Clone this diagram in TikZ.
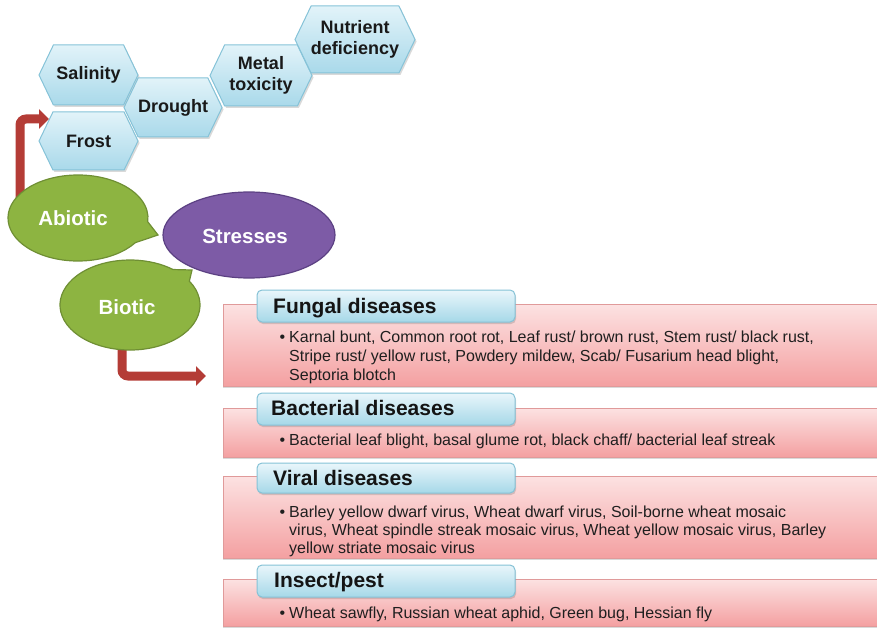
\documentclass[tikz,border=0pt]{standalone}
\usepackage{fontspec}
\setmainfont{Liberation Sans}
\usetikzlibrary{arrows.meta,shadows}

\definecolor{hexTop}{HTML}{E2F3F9}
\definecolor{hexBot}{HTML}{A9D9EA}
\definecolor{hexLine}{HTML}{86C3D8}
\definecolor{leaf}{HTML}{8DB441}
\definecolor{leafLine}{HTML}{6F8F34}
\definecolor{plum}{HTML}{7D5BA6}
\definecolor{plumLine}{HTML}{5C4183}
\definecolor{rustRed}{HTML}{B43C36}
\definecolor{pinkTop}{HTML}{FCE2E2}
\definecolor{pinkBot}{HTML}{F4A0A1}
\definecolor{pinkLine}{HTML}{E09A9A}
\definecolor{tabTop}{HTML}{E9F6FB}
\definecolor{tabBot}{HTML}{A6D8E8}
\definecolor{tabLine}{HTML}{85C2D6}

% hexagon with pointed left/right ends: name, cx, cy, half width, half height, label
\newcommand\hexagonnode[6]{%
  \path[hexshape] ({#2-#4},#3) -- ({#2-#4+0.48*#5},{#3-#5}) -- ({#2+#4-0.48*#5},{#3-#5})
    -- ({#2+#4},#3) -- ({#2+#4-0.48*#5},{#3+#5}) -- ({#2-#4+0.48*#5},{#3+#5}) -- cycle;
  \node[hexlabel] (#1) at (#2,#3) {#6};}

% speech bubble: cx, cy, rx, ry, gap start angle, gap end angle, tip, style
\newcommand\bubble[8]{%
  \path[#8] ({#1+#3*cos(#6)},{#2+#4*sin(#6)})
    arc[start angle=#6, end angle={#5+360}, x radius=#3, y radius=#4] -- #7 -- cycle;}

\begin{document}
\begin{tikzpicture}[x=1pt,y=-1pt,
  hexshape/.style={top color=hexTop, bottom color=hexBot, draw=hexLine, line width=1pt,
    drop shadow={shadow xshift=1.5pt, shadow yshift=-2pt, opacity=0.25, fill=black!60}},
  hexlabel/.style={font=\bfseries\fontsize{18}{21}\selectfont, text=black!90, align=center, inner sep=0pt},
  bubblelabel/.style={font=\bfseries\fontsize{20.5}{24}\selectfont, text=white, inner sep=0pt},
  greenbubble/.style={fill=leaf, draw=leafLine, line width=1.2pt},
  arrowline/.style={draw=rustRed, line width=9pt, rounded corners=6pt, -{Triangle[length=10pt,width=19pt]}},
  panel/.style={top color=pinkTop, bottom color=pinkBot, draw=pinkLine, line width=1pt,
    drop shadow={shadow xshift=0pt, shadow yshift=-2pt, opacity=0.25, fill=black!60}},
  tabbox/.style={top color=tabTop, bottom color=tabBot, draw=tabLine, line width=1pt, rounded corners=5pt,
    drop shadow={shadow xshift=1pt, shadow yshift=-2pt, opacity=0.25, fill=black!60}},
  title/.style={font=\bfseries\fontsize{21}{25}\selectfont, anchor=base west, inner sep=0pt, text=black!92},
  body/.style={font=\fontsize{16}{19}\selectfont, anchor=base west, align=left, inner sep=0pt, text=black!88},
]
\useasboundingbox (0,0) rectangle (877,628);

% abiotic stress factors
\hexagonnode{salinity}{88.5}{75}{49.5}{30}{Salinity}
\hexagonnode{frost}{88.5}{141}{49.5}{29}{Frost}
\hexagonnode{drought}{173}{107.5}{49}{29.5}{Drought}
\hexagonnode{metal}{261}{75.5}{51}{30.5}{Metal\\toxicity}
\hexagonnode{nutrient}{355}{39.5}{60}{33.5}{Nutrient\\deficiency}

% connectors
\coordinate (abioticRoot) at (20,205);
\coordinate (frostTip) at (49,119);
\draw[arrowline] (abioticRoot) |- (frostTip);
\coordinate (bioticRoot) at (122,340);
\coordinate (fungalTip) at (206,376);
\draw[arrowline] (bioticRoot) |- (fungalTip);

% speech bubbles
\bubble{78}{218}{70}{43}{5}{35}{(158,235)}{greenbubble}
\node[bubblelabel] (abiotic) at (73,218) {Abiotic};
\bubble{130}{305}{70}{45}{-52}{-32}{(192,270)}{greenbubble}
\node[bubblelabel] (biotic) at (127,307) {Biotic};
\path[fill=plum, draw=plumLine, line width=1.2pt] (249,235) ellipse[x radius=86, y radius=43];
\node[bubblelabel] (stresses) at (245,236) {Stresses};

% biotic stress panels (multi-line texts are anchored at their last baseline)
\path[panel] (223,304) rectangle (890,386);
\path[tabbox] (257,290) rectangle (515,322);
\node[title] (fungal) at (273,313) {Fungal diseases};
\node[body] (fungalText) at (289,380) {\llap{\textbullet\hspace{4pt}}Karnal bunt, Common root rot, Leaf rust/ brown rust, Stem rust/ black rust,\\Stripe rust/ yellow rust, Powdery mildew, Scab/ Fusarium head blight,\\Septoria blotch};

\path[panel] (223,408) rectangle (890,457);
\path[tabbox] (257,393) rectangle (515,425);
\node[title] (bacterial) at (271,415) {Bacterial diseases};
\node[body] (bacterialText) at (289,445) {\llap{\textbullet\hspace{4pt}}Bacterial leaf blight, basal glume rot, black chaff/ bacterial leaf streak};

\path[panel] (223,476) rectangle (890,558);
\path[tabbox] (257,463) rectangle (515,493);
\node[title] (viral) at (273,485) {Viral diseases};
\node[body, font=\fontsize{16}{18.4}\selectfont] (viralText) at (289,553.8) {\llap{\textbullet\hspace{4pt}}Barley yellow dwarf virus, Wheat dwarf virus, Soil-borne wheat mosaic\\virus, Wheat spindle streak mosaic virus, Wheat yellow mosaic virus, Barley\\yellow striate mosaic virus};

\path[panel] (223,579) rectangle (890,626);
\path[tabbox] (257,565) rectangle (515,597);
\node[title] (insect) at (274,587) {Insect/pest};
\node[body] (insectText) at (289,618) {\llap{\textbullet\hspace{4pt}}Wheat sawfly, Russian wheat aphid, Green bug, Hessian fly};
\end{tikzpicture}
\end{document}
